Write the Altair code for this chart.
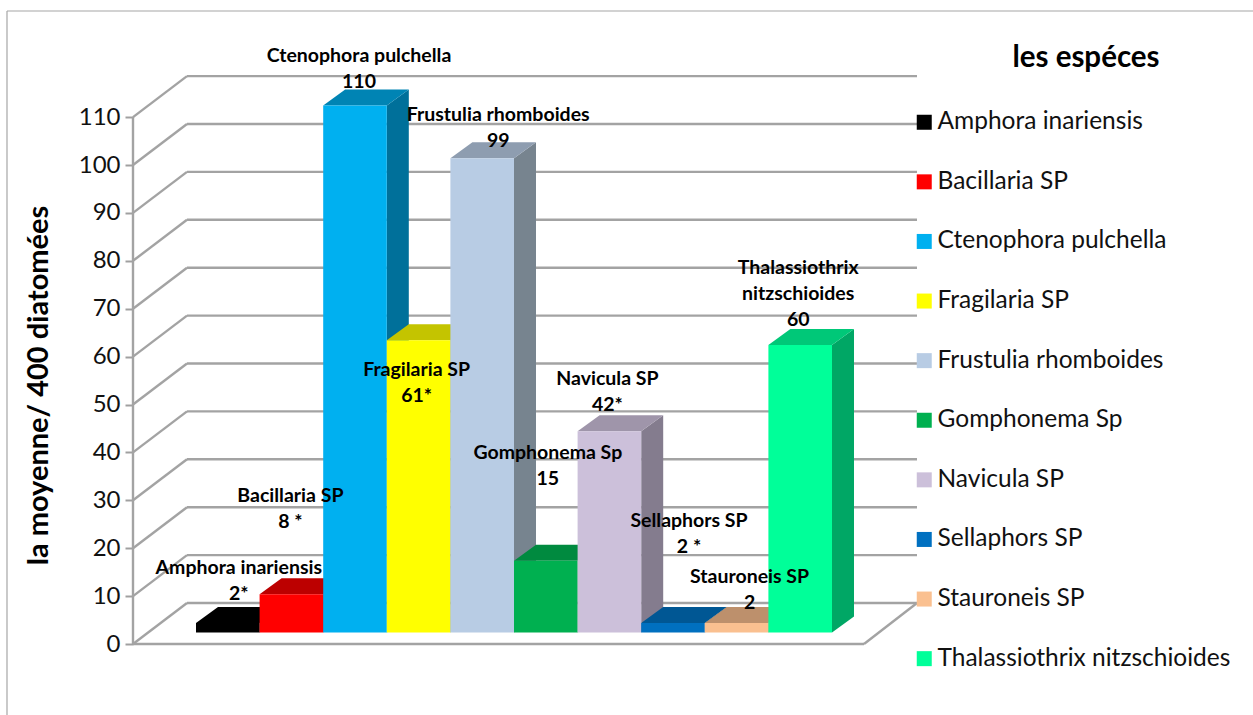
import altair as alt
import pandas as pd

# Species counts and their written value labels
species = ["Amphora inariensis", "Bacillaria SP", "Ctenophora pulchella", "Fragilaria SP",
           "Frustulia rhomboides", "Gomphonema Sp", "Navicula SP", "Sellaphors SP",
           "Stauroneis SP", "Thalassiothrix nitzschioides"]
values = [2, 8, 110, 61, 99, 15, 42, 2, 2, 60]
value_text = ["2*", "8 *", "110", "61*", "99", "15", "42*", "2 *", "2", "60"]
name_lines = [["Amphora inariensis"], ["Bacillaria SP"], ["Ctenophora pulchella"], ["Fragilaria SP"],
              ["Frustulia rhomboides"], ["Gomphonema Sp"], ["Navicula SP"], ["Sellaphors SP"],
              ["Stauroneis SP"], ["Thalassiothrix", "nitzschioides"]]

# Face colours of each 3D column
front_colors = ["#000000", "#FF0000", "#00B0F0", "#FFFF00", "#B8CCE4",
                "#00B050", "#CCC0DA", "#0070C0", "#FAC090", "#00FF99"]
top_colors = ["#000000", "#BC0000", "#0084B4", "#C4C400", "#8E9DB0",
              "#008A3F", "#9F95AA", "#005794", "#BD906C", "#00C878"]
side_colors = ["#000000", "#A00000", "#00709A", "#A8A800", "#77848F",
               "#007A38", "#847C8E", "#004C80", "#A88060", "#00A765"]

# Hand-placed label nudges from each column's centre and top, in pixels
label_dx = [11, -1, 4, -2, 16, 2, -2, 16, 13, -2]
value_dy = [-29, -72, -24, 56, -17, -82, -26, -76, -20, -25]

tick_values = list(range(0, 111, 10))

# Projection of the pseudo-3D box, in pixels
PX_PER_BAR = 63.6
PX_PER_UNIT = 4.79
PLOT_W, PLOT_H = 784, 568
LEFT_PX = 63  # front axis sits this far left of the first column
u_x = lambda px: px / PX_PER_BAR
u_y = lambda px: px / PX_PER_UNIT
x0 = u_x(-LEFT_PX)
x1 = x0 + u_x(PLOT_W)
y1 = u_y(PLOT_H)
base = u_y(11.5)        # floor rise of the column row
bar_dx, bar_dy = u_x(22), u_y(16)
wall_dx, wall_dy = u_x(54), u_y(41)
floor_right = x0 + u_x(731)

xs = alt.Scale(domain=[x0, x1], nice=False, zero=False)
ys = alt.Scale(domain=[0, y1], nice=False, zero=False)
yaxis = alt.Axis(values=tick_values, domain=False, grid=False, ticks=True, tickSize=8, tickWidth=2,
                 tickColor="#A0A0A0", labelFont="Lato", labelFontSize=24, labelColor="#111111",
                 labelPadding=5, title="la moyenne/ 400 diatomées", titleFont="Lato",
                 titleFontSize=29, titleFontWeight="bold", titleColor="#000000",
                 titleX=-80, titleY=309, titleAngle=-90, titleAnchor="middle")
X = alt.X("x:Q", scale=xs, axis=None)
Y = alt.Y("y:Q", scale=ys, axis=yaxis)

# Wall and floor wireframe
rows = []
for t in tick_values:
    rows.append(dict(x=x0, x2=x0 + wall_dx, y=t, y2=t + wall_dy))
    rows.append(dict(x=x0 + wall_dx, x2=x1, y=t + wall_dy, y2=t + wall_dy))
rows.append(dict(x=x0, x2=x0, y=0, y2=110))
rows.append(dict(x=x0, x2=floor_right, y=0, y2=0))
rows.append(dict(x=floor_right, x2=x1, y=0, y2=wall_dy))
frame = alt.Chart(pd.DataFrame(rows)).mark_rule(color="#A3A3A3", strokeWidth=2.4).encode(
    x=X, x2="x2:Q", y=Y, y2="y2:Q")

# Side and top faces as filled areas
side_rows, top_rows = [], []
for i, v in enumerate(values):
    b, t = base, base + v
    side_rows += [dict(s=i, x=i + 1, y=t, y2=b, c=side_colors[i]),
                  dict(s=i, x=i + 1 + bar_dx, y=t + bar_dy, y2=b + bar_dy, c=side_colors[i])]
    top_rows += [dict(s=i, x=i, y=t, y2=t, c=top_colors[i]),
                 dict(s=i, x=i + bar_dx, y=t + bar_dy, y2=t, c=top_colors[i]),
                 dict(s=i, x=i + 1, y=t + bar_dy, y2=t, c=top_colors[i]),
                 dict(s=i, x=i + 1 + bar_dx, y=t + bar_dy, y2=t + bar_dy, c=top_colors[i])]


def faces(rows):
    return alt.Chart(pd.DataFrame(rows)).mark_area(opacity=1).encode(
        x=X, y=Y, y2="y2:Q", detail="s:N", color=alt.Color("c:N", scale=None))


# Front faces carry the legend
front_df = pd.DataFrame({
    "species": species,
    "x": list(range(10)),
    "x2": [i + 1 for i in range(10)],
    "y": [base + v for v in values],
    "y2": [base] * 10,
})
fronts = alt.Chart(front_df).mark_rect(opacity=1).encode(
    x=X, x2="x2:Q", y=Y, y2="y2:Q",
    color=alt.Color("species:N", sort=None,
                    scale=alt.Scale(domain=species, range=front_colors),
                    legend=alt.Legend(title=None, orient="none", legendX=779, legendY=34,
                                      symbolType="square", symbolSize=225, symbolStrokeWidth=0,
                                      symbolOpacity=1, labelFont="Lato", labelFontSize=24.5,
                                      labelColor="#111111", labelOffset=1, rowPadding=34.6,
                                      labelLimit=400, padding=0)))

# Two-line annotations: species name above the written value
name_rows, value_rows = [], []
for i, v in enumerate(values):
    cx = i + 0.5 + u_x(label_dx[i])
    vy = base + v + u_y(-value_dy[i])
    value_rows.append(dict(x=cx, y=vy, t=value_text[i]))
    lines = name_lines[i]
    for k, line in enumerate(lines):
        name_rows.append(dict(x=cx, y=vy + u_y(26 * (len(lines) - k)), t=line))
labels = alt.Chart(pd.DataFrame(name_rows + value_rows)).mark_text(
    font="Lato", fontSize=19.5, fontWeight="bold", color="#000000", baseline="middle", align="center"
).encode(x=X, y=Y, text="t:N")

# Legend heading and outer chart border
heading = alt.Chart(pd.DataFrame({"t": ["les espéces"]})).mark_text(
    font="Lato", fontSize=29.5, fontWeight="bold", color="#000000", baseline="middle", align="center"
).encode(x=alt.value(953), y=alt.value(-18), text="t:N")
border_top = alt.Chart(pd.DataFrame({"a": [0]})).mark_rule(color="#A6A6A6", strokeWidth=1.2).encode(
    x=alt.value(-126), x2=alt.value(1120), y=alt.value(-65))
border_left = alt.Chart(pd.DataFrame({"a": [0]})).mark_rule(color="#A6A6A6", strokeWidth=1.2).encode(
    x=alt.value(-126), y=alt.value(-65), y2=alt.value(639))

chart = alt.layer(
    border_top, border_left, frame, faces(side_rows), faces(top_rows), fronts, labels, heading
).resolve_scale(color="independent").properties(
    width=PLOT_W, height=PLOT_H,
    padding={"left": 133, "top": 76, "right": 336, "bottom": 71},
    autosize=alt.AutoSizeParams(type="none"),
    background="white",
).configure_view(stroke=None)

chart.save("out.html", embed_options={"renderer": "svg", "actions": False})
